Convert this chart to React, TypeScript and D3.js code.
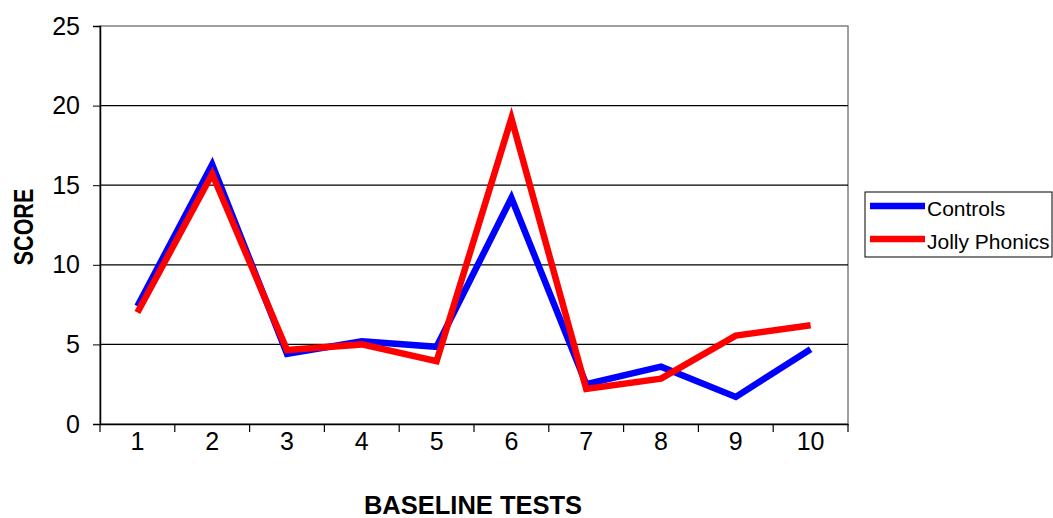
import { useEffect, useRef } from "react";
import * as d3 from "d3";

const tests = ["1", "2", "3", "4", "5", "6", "7", "8", "9", "10"];
const controls = [7.4, 16.3, 4.4, 5.2, 4.85, 14.2, 2.5, 3.6, 1.7, 4.7];
const jollyPhonics = [7.0, 15.7, 4.65, 5.0, 3.95, 19.2, 2.2, 2.85, 5.55, 6.2];
const yTicks = [0, 5, 10, 15, 20, 25];

const seriesList = [
  { name: "Controls", values: controls, color: "#0000ff" },
  { name: "Jolly Phonics", values: jollyPhonics, color: "#ff0000" },
];

const App = () => {
  const svgRef = useRef<SVGSVGElement | null>(null);

  useEffect(() => {
    const w = 1053;
    const h = 518;
    const left = 100, right = 848, top = 26, bottom = 424;
    const font = "'Liberation Sans', Arial, sans-serif";

    const svg = d3.select(svgRef.current).attr("width", w).attr("height", h);
    svg.selectAll("*").remove();

    const x = d3.scaleBand().domain(tests).range([left, right]).padding(0);
    const y = d3.scaleLinear().domain([0, 25]).range([bottom, top]);
    const cx = (d: string) => (x(d) ?? 0) + x.bandwidth() / 2;

    // plot frame and gridlines
    svg.append("rect")
      .attr("x", left).attr("y", top)
      .attr("width", right - left).attr("height", bottom - top)
      .attr("fill", "none").attr("stroke", "#808080").attr("stroke-width", 1.5);

    svg.selectAll(".grid")
      .data(yTicks.filter((t) => t > 0 && t < 25))
      .join("line")
      .attr("x1", left).attr("x2", right)
      .attr("y1", (d) => y(d)).attr("y2", (d) => y(d))
      .attr("stroke", "#000").attr("stroke-width", 1.2);

    // axes
    const yAxis = d3.axisLeft(y).tickValues(yTicks).tickSize(7).tickPadding(13);
    const gy = svg.append("g").attr("transform", `translate(${left},0)`).call(yAxis);
    gy.select(".domain").attr("stroke", "#000").attr("stroke-width", 1.5);
    gy.selectAll("text").attr("font-family", font).attr("font-size", 25).attr("fill", "#000");

    const xAxis = d3.axisBottom(x).tickSize(0).tickPadding(8);
    const gx = svg.append("g").attr("transform", `translate(0,${bottom})`).call(xAxis);
    gx.select(".domain").attr("stroke", "#000").attr("stroke-width", 1.5);
    gx.selectAll("text").attr("font-family", font).attr("font-size", 25).attr("fill", "#000");
    gx.selectAll(".xb")
      .data([...tests.map((d) => x(d) ?? 0), right])
      .join("line")
      .attr("x1", (d) => d).attr("x2", (d) => d)
      .attr("y1", 0).attr("y2", 8)
      .attr("stroke", "#000").attr("stroke-width", 1.2);

    // lines
    const line = d3.line<number>()
      .x((_, i) => cx(tests[i]))
      .y((d) => y(d));

    svg.selectAll(".series")
      .data(seriesList)
      .join("path")
      .attr("d", (s) => line(s.values))
      .attr("fill", "none")
      .attr("stroke", (s) => s.color)
      .attr("stroke-width", 6.5)
      .attr("stroke-linejoin", "miter");

    // axis titles
    svg.append("text")
      .attr("transform", `translate(33,${(top + bottom) / 2 + 2}) rotate(-90) scale(1,1.28)`)
      .attr("text-anchor", "middle")
      .attr("font-family", font).attr("font-size", 21.5).attr("font-weight", "bold")
      .text("SCORE");
    svg.append("text")
      .attr("x", 473).attr("y", 514)
      .attr("text-anchor", "middle")
      .attr("font-family", font).attr("font-size", 25.5).attr("font-weight", "bold")
      .text("BASELINE TESTS");

    // legend
    const lg = svg.append("g").attr("transform", "translate(865,192)");
    lg.append("rect").attr("width", 187).attr("height", 65)
      .attr("fill", "#fff").attr("stroke", "#000").attr("stroke-width", 1);
    const items = lg.selectAll(".item").data(seriesList).join("g")
      .attr("transform", (_, i) => `translate(0,${14 + i * 33})`);
    items.append("line").attr("x1", 5).attr("x2", 60)
      .attr("stroke", (s) => s.color).attr("stroke-width", 6.5);
    items.append("text").attr("x", 62).attr("y", 10)
      .attr("font-family", font).attr("font-size", 21)
      .text((s) => s.name);
  }, []);

  return <svg ref={svgRef} style={{ position: "absolute", left: 0, top: 0, display: "block" }}></svg>;
};

export default App;
